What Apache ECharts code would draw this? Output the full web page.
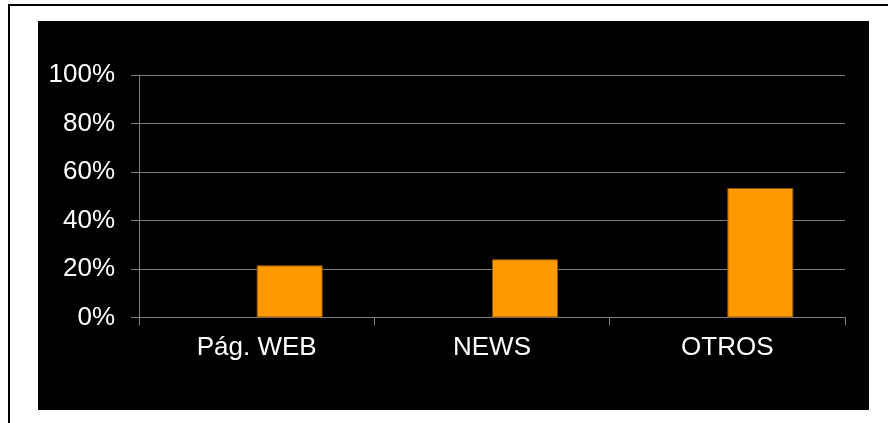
<!DOCTYPE html>
<html>
<head>
<meta charset="utf-8">
<script src="https://cdn.jsdelivr.net/npm/echarts@6/dist/echarts.min.js"></script>
<style>
    html, body { margin: 0; padding: 0; background: #fff; }
    #main { width: 888px; height: 423px; }
</style>
</head>
<body>
<div id="main"></div>
<script>
var categories = ['Pág. WEB', 'NEWS', 'OTROS'];
var emptyValues = ['-', '-', '-'];
var values = [21.5, 24, 53.4];

var labelFont = '"Liberation Sans", Arial, sans-serif';

var myChart = echarts.init(document.getElementById('main'));
var option = {
    backgroundColor: '#fff',
    animation: false,
    graphic: [
        {
            type: 'rect',
            z: -10,
            shape: { x: 38, y: 21, width: 831, height: 389 },
            style: { fill: '#000' }
        },
        {
            type: 'rect',
            z: -10,
            shape: { x: 8, y: 4, width: 880, height: 2 },
            style: { fill: '#000' }
        },
        {
            type: 'rect',
            z: -10,
            shape: { x: 8, y: 4, width: 2, height: 419 },
            style: { fill: '#000' }
        }
    ],
    grid: {
        left: 139,
        right: 43,
        top: 75,
        bottom: 105.5,
        containLabel: false
    },
    xAxis: {
        type: 'category',
        data: categories,
        axisLine: { lineStyle: { color: '#808080', width: 1 } },
        axisTick: { show: true, length: 8, lineStyle: { color: '#808080' } },
        axisLabel: {
            color: '#fff',
            fontSize: 26,
            fontFamily: labelFont,
            margin: 17
        },
        splitLine: { show: false }
    },
    yAxis: {
        type: 'value',
        min: 0,
        max: 100,
        interval: 20,
        axisLine: { show: true, lineStyle: { color: '#808080', width: 1 } },
        axisTick: { show: true, length: 8, lineStyle: { color: '#808080' } },
        axisLabel: {
            color: '#fff',
            fontSize: 26,
            fontFamily: labelFont,
            margin: 24,
            formatter: '{value}%'
        },
        splitLine: { show: true, lineStyle: { color: '#808080', width: 1 } }
    },
    series: [
        {
            name: 'vacío',
            type: 'bar',
            data: emptyValues,
            barWidth: 66,
            barGap: '0%'
        },
        {
            name: 'valor',
            type: 'bar',
            data: values,
            barWidth: 66,
            barGap: '0%',
            itemStyle: {
                color: '#FF9900',
                borderColor: '#8a5500',
                borderWidth: 1
            }
        }
    ]
};
myChart.setOption(option);
</script>
</body>
</html>
